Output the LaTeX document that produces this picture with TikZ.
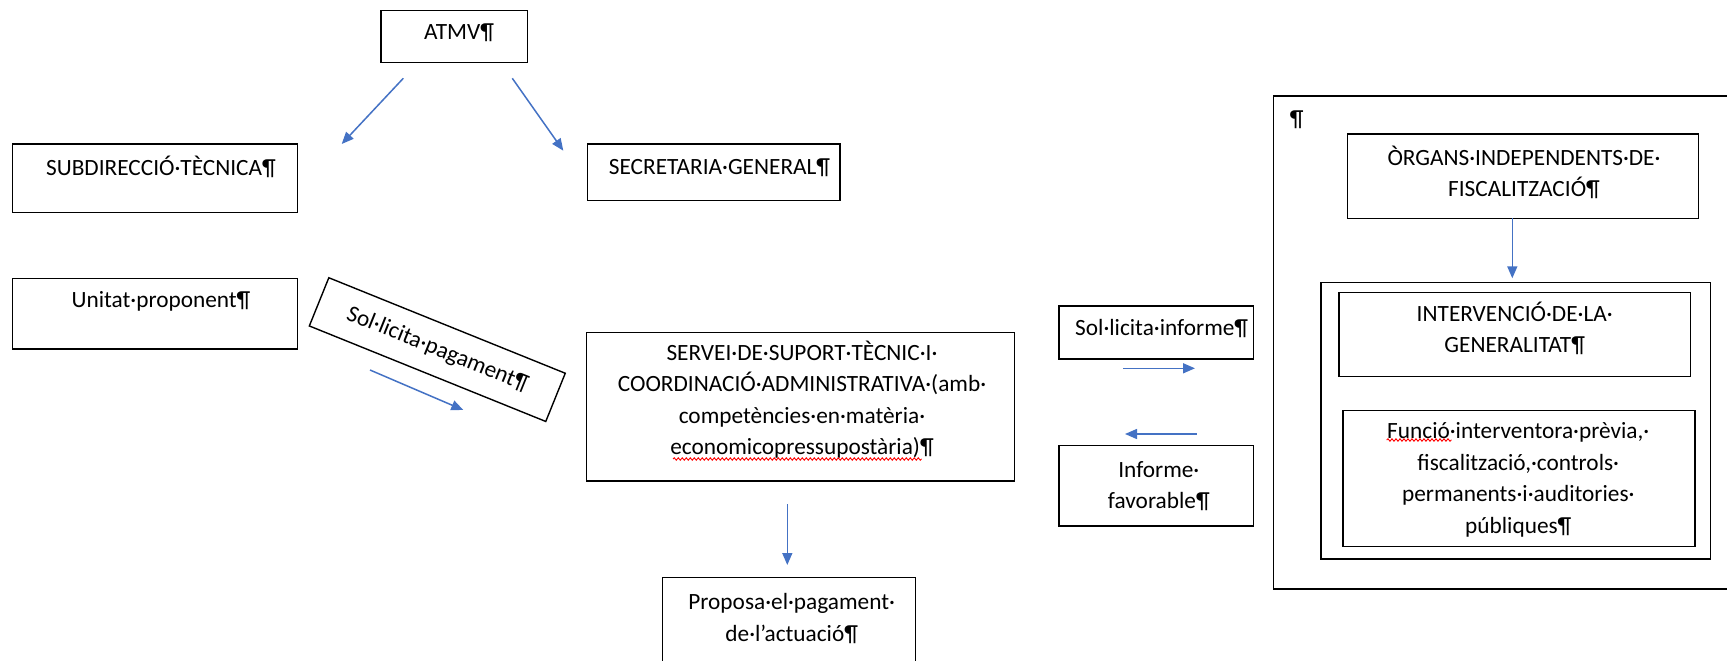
\documentclass[tikz,border=0pt]{standalone}
\usepackage{fontspec}
\setmainfont{Carlito}
\usetikzlibrary{arrows.meta,decorations.pathmorphing}
\definecolor{arrowblue}{HTML}{4472C4}

\begin{document}
\begin{tikzpicture}
  [x=1pt,y=-1pt,
   every node/.style={font=\fontsize{23.3}{31.5}\selectfont},
   box/.style={draw,line width=1.4pt,inner sep=0pt},
   txt/.style={inner sep=0pt,anchor=base,align=center,text width=440pt},
   flow/.style={draw=arrowblue,line width=1.5pt,-{Triangle[length=12pt,width=10pt]}},
   spell/.style={draw=red,line width=0.9pt,decorate,
     decoration={snake,amplitude=1.2pt,segment length=4pt}}]
  \useasboundingbox (0,0) rectangle (1727,661);
  \clip (0,0) rectangle (1727,661);

  % left column
  \node[box,minimum width=146.5pt,minimum height=52pt] (atmv) at (454.2,36.5) {};
  \node[txt] (atmv-t) at (459,39.3) {ATMV¶};
  \node[box,minimum width=285pt,minimum height=68.5pt] (subd) at (155,178.2) {};
  \node[txt] (subd-t) at (161,175.3) {SUBDIRECCIÓ·TÈCNICA¶};
  \node[box,minimum width=252.7pt,minimum height=56.7pt] (secr) at (713.6,172.3) {};
  \node[txt] (secr-t) at (719.5,174.3) {SECRETARIA·GENERAL¶};
  \node[box,minimum width=285pt,minimum height=70.7pt] (unit) at (155.2,313.7) {};
  \node[txt] (unit-t) at (161,307) {Unitat·proponent¶};
  \node[box,minimum width=255pt,minimum height=52pt,rotate=-22] (pag) at (437.3,349.6)
    {Sol·licita·pagament¶};

  % central service
  \node[box,minimum width=427.6pt,minimum height=148.7pt] (servei) at (800.5,406.7) {};
  \node[txt] (servei-t) at (802,360.3) {SERVEI·DE·SUPORT·TÈCNIC·I·\\
    COORDINACIÓ·ADMINISTRATIVA·(amb·\\ competències·en·matèria·\\
    economicopressupostària)¶};
  \node[box,minimum width=253pt,minimum height=122.3pt] (prop) at (789.2,638.9) {};
  \node[txt] (prop-t) at (791.7,609.7) {Proposa·el·pagament·\\ de·l’actuació¶};

  % reports
  \node[box,minimum width=194.3pt,minimum height=53pt] (solinf) at (1156.2,332.5) {};
  \node[txt] (solinf-t) at (1161.7,335.3) {Sol·licita·informe¶};
  \node[box,minimum width=194.3pt,minimum height=80.3pt] (infav) at (1156.2,485.9) {};
  \node[txt] (infav-t) at (1158.8,477) {Informe·\\ favorable¶};

  % control bodies
  \node[box,minimum width=466.7pt,minimum height=493pt] (outer) at (1506.7,342.5) {};
  \node[txt] (outer-t) at (1296.7,126.3) {¶};
  \node[box,minimum width=351pt,minimum height=84.3pt] (organs) at (1522.8,176.2) {};
  \node[txt] (organs-t) at (1524,165.3) {ÒRGANS·INDEPENDENTS·DE·\\ FISCALITZACIÓ¶};
  \node[box,minimum width=389.7pt,minimum height=276.7pt] (cont) at (1515.9,420.7) {};
  \node[box,minimum width=351.7pt,minimum height=84.4pt] (interv) at (1514.9,334.5) {};
  \node[txt] (interv-t) at (1514.7,321.3) {INTERVENCIÓ·DE·LA·\\ GENERALITAT¶};
  \node[box,minimum width=352pt,minimum height=136pt] (funcio) at (1519,478.7) {};
  \node[txt] (funcio-t) at (1518.3,438.7) {Funció·interventora·prèvia,·\\
    fiscalització,·controls·\\ permanents·i·auditories·\\ públiques¶};

  % arrow ends
  \coordinate (a1s) at (403.3,78.3);   \coordinate (a1e) at (341.7,144);
  \coordinate (a2s) at (512.3,78.3);   \coordinate (a2e) at (563.3,150.7);
  \coordinate (a3s) at (370,370);      \coordinate (a3e) at (463.3,410);
  \coordinate (a4s) at (787.3,504.3);  \coordinate (a4e) at (787.3,565);
  \coordinate (a5s) at (1123.3,368.3); \coordinate (a5e) at (1195,368.3);
  \coordinate (a6s) at (1196.7,434);   \coordinate (a6e) at (1125,434);
  \coordinate (a7s) at (1512.3,218.3); \coordinate (a7e) at (1512.3,278.3);

  \draw[flow] (a1s) -- (a1e);
  \draw[flow] (a2s) -- (a2e);
  \draw[flow] (a3s) -- (a3e);
  \draw[flow] (a4s) -- (a4e);
  \draw[flow] (a5s) -- (a5e);
  \draw[flow] (a6s) -- (a6e);
  \draw[flow] (a7s) -- (a7e);

  % spell check marks
  \draw[spell] (673,459) -- (921.7,459);
  \draw[spell] (1386.7,440) -- (1451.7,440);
\end{tikzpicture}
\end{document}
